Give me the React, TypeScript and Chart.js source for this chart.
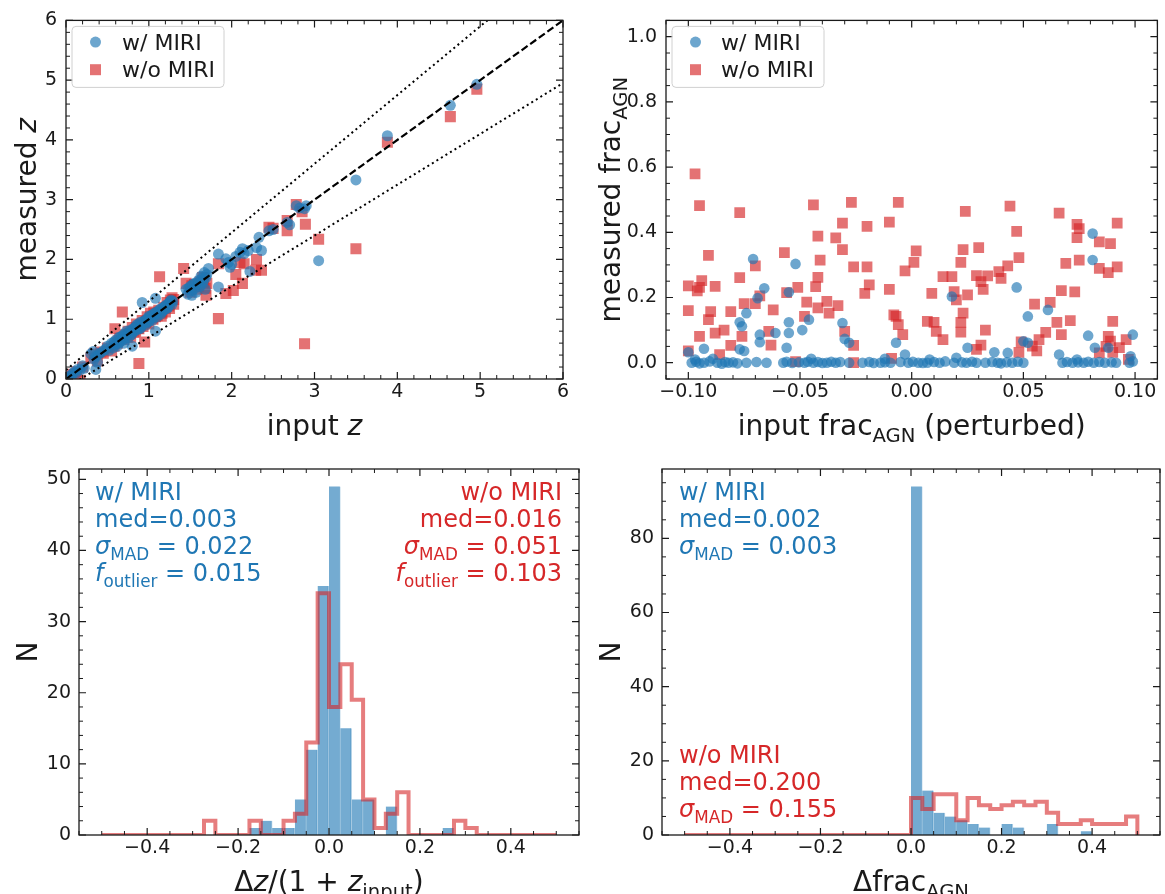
import React, { useEffect, useRef } from 'react';
import { Chart, registerables } from 'chart.js';

Chart.register(...registerables);

const W = 1165;
const H = 894;
const FONT = '"DejaVu Sans", "Liberation Sans", sans-serif';
const INK = '#1a1a1a';
const BLUE = 'rgba(31,119,180,0.65)';
const RED = 'rgba(214,39,40,0.65)';
const BLUE_BAR = 'rgba(31,119,180,0.62)';
const RED_STEP = 'rgba(214,39,40,0.6)';
const BLUE_TXT = '#1f77b4';
const RED_TXT = '#d62728';
const TICK_SIZE = 19;
const TITLE_SIZE = 28;
const LEGEND_SIZE = 22;
const NOTE_SIZE = 24;

const LEGEND_LABELS = ['w/ MIRI', 'w/o MIRI'];

// ---------- Panel 1: input z vs measured z ----------
const P1_TICKS = [0, 1, 2, 3, 4, 5, 6];
const P1_BLUE: number[][] = [
  [0.02, 0.02], [0.04, 0.05], [0.06, 0.04], [0.08, 0.09], [0.10, 0.12], [0.12, 0.10], [0.14, 0.16], [0.17, 0.15], [0.20, 0.22], [0.22, 0.18],
  [0.30, 0.42], [0.33, 0.46], [0.34, 0.33], [0.36, 0.38], [0.36, 0.16], [0.38, 0.28], [0.40, 0.42], [0.42, 0.44], [0.45, 0.47],
  [0.48, 0.50], [0.50, 0.55], [0.52, 0.48], [0.55, 0.60], [0.57, 0.52], [0.58, 0.62], [0.60, 0.58], [0.60, 0.65], [0.62, 0.55], [0.63, 0.60],
  [0.64, 0.70], [0.65, 0.62], [0.66, 0.70], [0.67, 0.66], [0.68, 0.72], [0.69, 0.65], [0.70, 0.75], [0.70, 0.60], [0.72, 0.68], [0.73, 0.80],
  [0.74, 0.76], [0.75, 0.74], [0.76, 0.70], [0.77, 0.78], [0.78, 0.82], [0.79, 0.74], [0.80, 0.78], [0.80, 0.55], [0.81, 0.82], [0.82, 0.85],
  [0.83, 0.80], [0.84, 0.86], [0.85, 0.90], [0.86, 0.83], [0.87, 0.92], [0.88, 0.88], [0.89, 0.84], [0.90, 0.95], [0.90, 0.86], [0.91, 0.90],
  [0.92, 1.28], [0.93, 0.92], [0.94, 0.96], [0.95, 0.98], [0.96, 0.90], [0.97, 0.94], [0.98, 1.00], [0.99, 1.02], [1.00, 0.96], [1.00, 1.05],
  [1.01, 0.99], [1.02, 1.02], [1.03, 1.06], [1.04, 0.98], [1.05, 1.08], [1.06, 1.03], [1.07, 1.10], [1.08, 0.80], [1.08, 1.35], [1.09, 1.12],
  [1.10, 1.04], [1.11, 1.10], [1.12, 1.12], [1.13, 1.16], [1.14, 1.08], [1.15, 1.18], [1.16, 1.12], [1.17, 1.15], [1.18, 1.20], [1.19, 1.16],
  [1.20, 1.22], [1.21, 1.24], [1.22, 1.18], [1.23, 1.20], [1.24, 1.26], [1.25, 1.28], [1.26, 1.30], [1.27, 1.32], [1.28, 1.25], [1.29, 1.30],
  [1.45, 1.50], [1.47, 1.42], [1.48, 1.52], [1.50, 1.55], [1.52, 1.48], [1.52, 1.40], [1.53, 1.58], [1.55, 1.60], [1.56, 1.52], [1.57, 1.45],
  [1.58, 1.60], [1.60, 1.65], [1.61, 1.62], [1.62, 1.55], [1.63, 1.72], [1.64, 1.68], [1.65, 1.60], [1.66, 1.65], [1.67, 1.78], [1.68, 1.50],
  [1.69, 1.70], [1.70, 1.75], [1.72, 1.85],
  [1.84, 2.09], [1.84, 1.54], [1.93, 2.01], [1.96, 1.95], [1.98, 1.87], [2.00, 1.92], [2.05, 2.05], [2.10, 2.12], [2.13, 2.18], [2.15, 2.10],
  [2.20, 2.15], [2.22, 1.80], [2.30, 2.20], [2.33, 2.37], [2.36, 2.15], [2.45, 2.48], [2.50, 2.50], [2.67, 2.62], [2.70, 2.58], [2.78, 2.90],
  [2.82, 2.86], [2.88, 2.85], [2.90, 2.90], [3.05, 1.98], [3.50, 3.33], [3.88, 4.07], [4.64, 4.58], [4.96, 4.93],
];
const P1_RED: number[][] = [
  [0.03, 0.04], [0.06, 0.08], [0.10, 0.07], [0.13, 0.12], [0.17, -0.02], [0.20, 0.20], [0.30, 0.35], [0.34, 0.42], [0.38, 0.30], [0.42, 0.45],
  [0.45, 0.43], [0.50, 0.52], [0.55, 0.47], [0.58, 0.55], [0.59, 0.84], [0.62, 0.60], [0.63, 0.64], [0.65, 0.68], [0.68, 1.12], [0.70, 0.66],
  [0.72, 0.74], [0.74, 0.70], [0.75, 0.80], [0.77, 0.76], [0.78, 0.70], [0.80, 0.86], [0.82, 0.78], [0.84, 0.80], [0.85, 0.92], [0.87, 0.85],
  [0.88, 0.26], [0.88, 0.84], [0.90, 0.90], [0.92, 0.98], [0.93, 0.88], [0.95, 0.62], [0.96, 0.94], [0.97, 0.96], [0.98, 1.04], [1.00, 0.92],
  [1.02, 1.10], [1.04, 1.02], [1.05, 1.00], [1.06, 1.12], [1.08, 1.04], [1.10, 1.06], [1.12, 1.15], [1.13, 1.71], [1.15, 1.05], [1.16, 1.10],
  [1.18, 1.20], [1.20, 1.12], [1.22, 1.28], [1.24, 1.22], [1.25, 1.18], [1.26, 1.32], [1.28, 1.36], [1.30, 1.25], [1.30, 1.33],
  [1.42, 1.85], [1.45, 1.60], [1.50, 1.45], [1.52, 1.56], [1.55, 1.58], [1.58, 1.50], [1.60, 1.55], [1.62, 1.62], [1.65, 1.70], [1.66, 1.62],
  [1.68, 1.52], [1.69, 1.40], [1.70, 1.60],
  [1.84, 1.01], [1.84, 1.93], [1.93, 1.43], [2.02, 1.48], [2.05, 1.75], [2.10, 1.95], [2.13, 1.60], [2.15, 1.93], [2.29, 1.82], [2.30, 2.00],
  [2.36, 1.82], [2.45, 2.54], [2.50, 2.52], [2.67, 2.65], [2.67, 2.48], [2.78, 2.92], [2.85, 2.80], [2.88, 0.59], [2.89, 2.59], [3.05, 2.34],
  [3.50, 2.18], [3.88, 3.96], [4.64, 4.39], [4.96, 4.85],
];
const P1_ONE_TO_ONE = [{ x: 0, y: 0 }, { x: 6, y: 6 }];
const P1_UPPER = [{ x: 0, y: 0.15 }, { x: 6, y: 7.05 }];
const P1_LOWER = [{ x: 0, y: -0.15 }, { x: 6, y: 4.95 }];

// ---------- Panel 2: input fracAGN vs measured fracAGN ----------
const P2_XTICKS = [-0.1, -0.05, 0, 0.05, 0.1];
const P2_YTICKS = [0, 0.2, 0.4, 0.6, 0.8, 1.0];
const P2_BLUE: number[][] = [
  [-0.071, 0.318], [-0.052, 0.303], [-0.066, 0.228], [-0.069, 0.198], [-0.055, 0.216], [-0.074, 0.152], [-0.077, 0.124], [-0.076, 0.112],
  [-0.068, 0.086], [-0.068, 0.063], [-0.061, 0.091], [-0.055, 0.124], [-0.055, 0.091], [-0.049, 0.1], [-0.046, 0.132], [-0.031, 0.122],
  [-0.030, 0.073], [-0.028, 0.061], [0.047, 0.231], [0.052, 0.142], [0.061, 0.162], [0.018, 0.203], [0.079, 0.083], [0.081, 0.396],
  [0.081, 0.315], [0.099, 0.086], [0.025, 0.046], [0.037, 0.032], [0.050, 0.066], [0.052, 0.061], [0.082, 0.046], [0.088, 0.046],
  [-0.007, 0.061], [-0.003, 0.025], [-0.056, 0.046], [-0.093, 0.043], [-0.100, 0.032], [-0.077, 0.041], [-0.075, 0.036], [0.066, 0.025],
  [0.074, 0.01], [0.098, 0.02], [0.020, 0.015], [0.043, 0.03], [-0.097, 0.01], [-0.089, 0.012], [-0.045, 0.012], [0.008, 0.01], [-0.012, 0.012],
  [-0.0985, 0.0], [-0.0965, 0.003], [-0.095, -0.002], [-0.093, 0.0], [-0.0905, 0.004], [-0.087, 0.0], [-0.085, -0.003], [-0.0835, 0.002],
  [-0.082, 0.0], [-0.080, 0.001], [-0.078, -0.002], [-0.074, 0.0], [-0.0695, 0.002], [-0.065, 0.0], [-0.0575, 0.0], [-0.056, 0.003],
  [-0.0535, -0.001], [-0.0505, 0.001], [-0.048, 0.0], [-0.0465, 0.003], [-0.044, 0.0], [-0.042, 0.002], [-0.040, -0.001], [-0.038, 0.0],
  [-0.036, 0.003], [-0.034, 0.0], [-0.032, 0.002], [-0.028, 0.0], [-0.022, 0.0], [-0.019, 0.002], [-0.017, -0.001], [-0.014, 0.0],
  [-0.012, 0.001], [-0.0095, 0.0], [-0.005, 0.002], [-0.0015, 0.0], [0.0005, 0.003], [0.003, 0.0], [0.005, -0.001], [0.007, 0.0],
  [0.010, 0.002], [0.0125, 0.0], [0.015, 0.004], [0.019, 0.0], [0.0225, 0.001], [0.0245, 0.0], [0.027, 0.003], [0.029, 0.0], [0.033, 0.0],
  [0.036, 0.002], [0.0385, 0.0], [0.040, -0.002], [0.0425, 0.001], [0.045, 0.0], [0.0475, 0.003], [0.050, 0.0], [0.0675, 0.0], [0.0695, 0.002],
  [0.072, 0.0], [0.0745, 0.001], [0.077, 0.0], [0.079, 0.003], [0.0815, 0.0], [0.084, 0.002], [0.0865, 0.0], [0.0895, 0.001], [0.0915, 0.0],
  [0.0975, 0.0], [0.099, 0.004],
];
const P2_RED: number[][] = [
  [-0.097, 0.579], [-0.095, 0.482], [-0.077, 0.46], [-0.100, 0.16], [-0.100, 0.236], [-0.095, 0.231], [-0.094, 0.252], [-0.096, 0.22],
  [-0.091, 0.329], [-0.088, 0.234], [-0.091, 0.132], [-0.090, 0.157], [-0.095, 0.081], [-0.100, 0.036], [-0.088, 0.091], [-0.084, 0.1],
  [-0.086, 0.025], [-0.081, 0.053], [-0.081, 0.157], [-0.077, 0.261], [-0.075, 0.181], [-0.076, 0.081], [-0.070, 0.297], [-0.070, 0.181],
  [-0.068, 0.205], [-0.064, 0.096], [-0.062, 0.162], [-0.063, 0.054], [-0.057, 0.338], [-0.056, 0.215], [-0.051, 0.231], [-0.052, 0.003],
  [-0.047, 0.186], [-0.048, 0.142], [-0.044, 0.484], [-0.042, 0.388], [-0.041, 0.315], [-0.042, 0.262], [-0.043, 0.233], [-0.042, 0.168],
  [-0.038, 0.188], [-0.037, 0.152], [-0.034, 0.383], [-0.033, 0.175], [-0.031, 0.428], [-0.031, 0.347], [-0.030, 0.096], [-0.027, 0.492],
  [-0.026, 0.294], [-0.026, 0.053], [-0.026, 0.0], [-0.020, 0.418], [-0.020, 0.294], [-0.019, 0.239], [-0.021, 0.213], [-0.010, 0.431],
  [-0.010, 0.225], [-0.009, 0.013], [-0.008, 0.147], [-0.006, 0.492], [-0.006, 0.117], [-0.004, 0.086], [-0.007, 0.142], [-0.003, 0.282],
  [0.001, 0.308], [0.002, 0.343], [0.007, 0.127], [0.010, 0.124], [0.011, 0.096], [0.009, 0.213], [0.014, 0.071], [0.014, 0.264],
  [0.018, 0.264], [0.019, 0.218], [0.020, 0.193], [0.022, 0.094], [0.022, 0.124], [0.023, 0.152], [0.023, 0.347], [0.024, 0.464],
  [0.022, 0.308], [0.025, 0.208], [0.029, 0.267], [0.030, 0.353], [0.031, 0.249], [0.032, 0.225], [0.031, 0.054], [0.029, 0.041],
  [0.033, 0.1], [0.034, 0.266], [0.039, 0.279], [0.040, 0.259], [0.043, 0.297], [0.044, 0.48], [0.047, 0.403], [0.048, 0.322],
  [0.048, 0.032], [0.049, 0.064], [0.055, 0.18], [0.054, 0.051], [0.056, 0.036], [0.057, 0.071], [0.060, 0.093], [0.062, 0.185],
  [0.066, 0.459], [0.067, 0.221], [0.065, 0.124], [0.067, 0.086], [0.069, 0.305], [0.071, 0.129], [0.073, 0.217], [0.074, 0.424],
  [0.074, 0.384], [0.075, 0.411], [0.075, 0.315], [0.084, 0.371], [0.084, 0.289], [0.088, 0.276], [0.089, 0.365], [0.088, 0.081],
  [0.089, 0.066], [0.090, 0.127], [0.090, 0.032], [0.092, 0.428], [0.092, 0.294], [0.093, 0.046], [0.096, 0.071], [0.097, 0.01],
  [0.084, 0.03], [0.087, 0.05],
];

// ---------- Histograms (bins of 0.025 from -0.5 to 0.5) ----------
const HIST_MIN = -0.5;
const HIST_BIN = 0.025;
const HIST_XTICKS = [-0.4, -0.2, 0, 0.2, 0.4];
const P3_YTICKS = [0, 10, 20, 30, 40, 50];
const P4_YTICKS = [0, 20, 40, 60, 80];
//                 -0.5 ................................ 0.0 .................................. 0.5
const P3_BLUE_COUNTS = [0, 0, 0, 0, 0, 0, 0, 0, 0, 0, 0, 0, 0, 1, 2, 1, 1, 5, 12, 35, 49, 15, 5, 5, 0, 4, 0, 0, 0, 0, 1, 0, 0, 0, 0, 0, 0, 0, 0, 0];
const P3_RED_COUNTS = [0, 0, 0, 0, 0, 0, 0, 0, 0, 2, 0, 0, 0, 2, 0, 0, 2, 3, 13, 34, 18, 24, 19, 5, 1, 3, 6, 0, 0, 0, 0, 2, 1, 0, 0, 0, 0, 0, 0, 0];
const P4_BLUE_COUNTS = [0, 0, 0, 0, 0, 0, 0, 0, 0, 0, 0, 0, 0, 0, 0, 0, 0, 0, 0, 0, 94, 12, 6, 5, 4, 3, 2, 0, 3, 2, 0, 0, 3, 0, 0, 1, 0, 0, 0, 0];
const P4_RED_COUNTS = [0, 0, 0, 0, 0, 0, 0, 0, 0, 0, 0, 0, 0, 0, 0, 0, 0, 0, 0, 0, 10, 7, 11, 11, 4, 10, 8, 7, 8, 9, 8, 9, 6, 3, 3, 4, 3, 3, 3, 5];

const P3_BLUE_STATS = { label: 'w/ MIRI', med: '0.003', sig: '0.022', fout: '0.015' };
const P3_RED_STATS = { label: 'w/o MIRI', med: '0.016', sig: '0.051', fout: '0.103' };
const P4_BLUE_STATS = { label: 'w/ MIRI', med: '0.002', sig: '0.003' };
const P4_RED_STATS = { label: 'w/o MIRI', med: '0.200', sig: '0.155' };

// ---------- helpers ----------
type Seg = { t: string; it?: boolean; sub?: boolean };

function segFont(s: Seg, size: number) {
  const sz = s.sub ? size * 0.7 : size;
  return `${s.it ? 'italic ' : ''}${sz}px ${FONT}`;
}

function drawRich(ctx: any, segs: Seg[], x: number, cy: number, size: number, color: string, align: string) {
  ctx.save();
  ctx.fillStyle = color;
  ctx.textBaseline = 'alphabetic';
  ctx.textAlign = 'left';
  let total = 0;
  const ws = segs.map((s) => {
    ctx.font = segFont(s, size);
    const w = ctx.measureText(s.t).width;
    total += w;
    return w;
  });
  let cx = align === 'left' ? x : align === 'right' ? x - total : x - total / 2;
  const base = cy + size * 0.35;
  segs.forEach((s, i) => {
    ctx.font = segFont(s, size);
    ctx.fillText(s.t, cx, base + (s.sub ? size * 0.24 : 0));
    cx += ws[i];
  });
  ctx.restore();
}

function fmt(v: number, dec: number) {
  const s = Number(v).toFixed(dec);
  return s.replace('-', '\u2212');
}

function minorVals(min: number, max: number, step: number, majors: number[]) {
  const out: number[] = [];
  const a = Math.ceil(min / step - 1e-9);
  const b = Math.floor(max / step + 1e-9);
  for (let k = a; k <= b; k++) {
    const v = k * step;
    if (!majors.some((m) => Math.abs(m - v) < step * 1e-3)) out.push(v);
  }
  return out;
}

function axis(min: number, max: number, ticks: number[], dec: number, isX: boolean, pad: number) {
  return {
    type: 'linear',
    min,
    max,
    offset: false,
    grid: { display: false, drawTicks: false },
    border: { display: false },
    ticks: {
      font: { family: FONT, size: TICK_SIZE },
      color: INK,
      padding: pad,
      maxRotation: 0,
      autoSkip: false,
      includeBounds: false,
      callback: (v: any) => fmt(v, dec),
    },
    afterBuildTicks: (s: any) => {
      s.ticks = ticks.map((v) => ({ value: v }));
    },
    afterFit: (s: any) => {
      if (isX) s.height = 40;
      else s.width = 60;
    },
  };
}

function padFor(L: number, T: number, R: number, B: number) {
  return { left: L - 60, top: T, right: W - R, bottom: H - B - 40 };
}

type DecorCfg = {
  xMajor: number[];
  xMinor: number;
  yMajor: number[];
  yMinor: number;
  xTitle: Seg[];
  yTitle: Seg[];
  xTitleDy: number;
  yTitleDx: number;
  extra?: (ctx: any, a: any) => void;
};

function decorPlugin(cfg: DecorCfg) {
  return {
    id: 'decor',
    afterDraw(chart: any) {
      const ctx = chart.ctx;
      const a = chart.chartArea;
      const xs = chart.scales.x;
      const ys = chart.scales.y;
      ctx.save();
      ctx.strokeStyle = INK;
      const drawX = (vals: number[], len: number, lw: number) => {
        ctx.lineWidth = lw;
        ctx.beginPath();
        vals.forEach((v) => {
          if (v < xs.min - 1e-9 || v > xs.max + 1e-9) return;
          const p = xs.getPixelForValue(v);
          ctx.moveTo(p, a.bottom);
          ctx.lineTo(p, a.bottom - len);
          ctx.moveTo(p, a.top);
          ctx.lineTo(p, a.top + len);
        });
        ctx.stroke();
      };
      const drawY = (vals: number[], len: number, lw: number) => {
        ctx.lineWidth = lw;
        ctx.beginPath();
        vals.forEach((v) => {
          if (v < ys.min - 1e-9 || v > ys.max + 1e-9) return;
          const p = ys.getPixelForValue(v);
          ctx.moveTo(a.left, p);
          ctx.lineTo(a.left + len, p);
          ctx.moveTo(a.right, p);
          ctx.lineTo(a.right - len, p);
        });
        ctx.stroke();
      };
      drawX(cfg.xMajor, 7, 1.2);
      drawX(minorVals(xs.min, xs.max, cfg.xMinor, cfg.xMajor), 4, 1);
      drawY(cfg.yMajor, 7, 1.2);
      drawY(minorVals(ys.min, ys.max, cfg.yMinor, cfg.yMajor), 4, 1);
      ctx.lineWidth = 1.3;
      ctx.strokeRect(a.left, a.top, a.right - a.left, a.bottom - a.top);
      ctx.restore();

      drawRich(ctx, cfg.xTitle, (a.left + a.right) / 2, a.bottom + cfg.xTitleDy, TITLE_SIZE, INK, 'center');
      ctx.save();
      ctx.translate(a.left - cfg.yTitleDx, (a.top + a.bottom) / 2);
      ctx.rotate(-Math.PI / 2);
      drawRich(ctx, cfg.yTitle, 0, 0, TITLE_SIZE, INK, 'center');
      ctx.restore();
      if (cfg.extra) cfg.extra(ctx, a);
    },
  };
}

function drawLegend(ctx: any, a: any, textDx: number) {
  const x0 = a.left + 6;
  const y0 = a.top + 6;
  const w = 152;
  const h = 61;
  const r = 4;
  ctx.save();
  ctx.beginPath();
  ctx.moveTo(x0 + r, y0);
  ctx.lineTo(x0 + w - r, y0);
  ctx.arcTo(x0 + w, y0, x0 + w, y0 + r, r);
  ctx.lineTo(x0 + w, y0 + h - r);
  ctx.arcTo(x0 + w, y0 + h, x0 + w - r, y0 + h, r);
  ctx.lineTo(x0 + r, y0 + h);
  ctx.arcTo(x0, y0 + h, x0, y0 + h - r, r);
  ctx.lineTo(x0, y0 + r);
  ctx.arcTo(x0, y0, x0 + r, y0, r);
  ctx.closePath();
  ctx.fillStyle = 'rgba(255,255,255,0.8)';
  ctx.fill();
  ctx.strokeStyle = '#d0d0d0';
  ctx.lineWidth = 1;
  ctx.stroke();
  const mx = a.left + 29.5;
  ctx.fillStyle = BLUE;
  ctx.beginPath();
  ctx.arc(mx, a.top + 21.7, 5.5, 0, Math.PI * 2);
  ctx.fill();
  ctx.fillStyle = RED;
  ctx.fillRect(mx - 5.5, a.top + 49.3 - 5.5, 11, 11);
  ctx.restore();
  drawRich(ctx, [{ t: LEGEND_LABELS[0] }], a.left + textDx, a.top + 21.7, LEGEND_SIZE, INK, 'left');
  drawRich(ctx, [{ t: LEGEND_LABELS[1] }], a.left + textDx, a.top + 49.3, LEGEND_SIZE, INK, 'left');
}

function toPts(arr: number[][]) {
  return arr.map((p) => ({ x: p[0], y: p[1] }));
}

function binCenters(n: number) {
  const out: number[] = [];
  for (let i = 0; i < n; i++) out.push(HIST_MIN + HIST_BIN * (i + 0.5));
  return out;
}

function stepPts(counts: number[]) {
  const pts: { x: number; y: number }[] = [{ x: HIST_MIN, y: 0 }];
  counts.forEach((c, i) => {
    const l = HIST_MIN + HIST_BIN * i;
    pts.push({ x: l, y: c });
    pts.push({ x: l + HIST_BIN, y: c });
  });
  pts.push({ x: HIST_MIN + HIST_BIN * counts.length, y: 0 });
  return pts;
}

const baseOptions = (padding: any, scales: any) => ({
  animation: false,
  responsive: false,
  maintainAspectRatio: false,
  devicePixelRatio: 1,
  events: [],
  layout: { padding },
  plugins: { legend: { display: false }, tooltip: { enabled: false } },
  scales,
});

function makeP1() {
  return {
    type: 'scatter',
    data: {
      datasets: [
        { type: 'line', data: P1_ONE_TO_ONE, borderColor: '#000', borderWidth: 2.2, borderDash: [7.4, 3.2], pointRadius: 0, fill: false },
        { type: 'line', data: P1_UPPER, borderColor: '#000', borderWidth: 2, borderDash: [2, 3.3], pointRadius: 0, fill: false },
        { type: 'line', data: P1_LOWER, borderColor: '#000', borderWidth: 2, borderDash: [2, 3.3], pointRadius: 0, fill: false },
        { data: toPts(P1_BLUE), pointStyle: 'circle', pointRadius: 5.5, backgroundColor: BLUE, borderWidth: 0, clip: 0 },
        { data: toPts(P1_RED), pointStyle: 'rect', pointRadius: 7.8, backgroundColor: RED, borderWidth: 0, clip: 0 },
      ],
    },
    options: baseOptions(padFor(66, 19, 563, 379), {
      x: axis(0, 6, P1_TICKS, 0, true, 2),
      y: axis(0, 6, P1_TICKS, 0, false, 9),
    }),
    plugins: [
      decorPlugin({
        xMajor: P1_TICKS, xMinor: 0.2, yMajor: P1_TICKS, yMinor: 0.2,
        xTitle: [{ t: 'input ' }, { t: 'z', it: true }],
        yTitle: [{ t: 'measured ' }, { t: 'z', it: true }],
        xTitleDy: 46, yTitleDx: 40,
        extra: (ctx, a) => drawLegend(ctx, a, 56),
      }),
    ],
  };
}

function makeP2() {
  return {
    type: 'scatter',
    data: {
      datasets: [
        { data: toPts(P2_BLUE), pointStyle: 'circle', pointRadius: 5.3, backgroundColor: BLUE, borderWidth: 0, clip: 0 },
        { data: toPts(P2_RED), pointStyle: 'rect', pointRadius: 7.6, backgroundColor: RED, borderWidth: 0, clip: 0 },
      ],
    },
    options: baseOptions(padFor(666, 19, 1161, 379), {
      x: axis(-0.11, 0.11, P2_XTICKS, 2, true, 2),
      y: axis(-0.05, 1.05, P2_YTICKS, 1, false, 9),
    }),
    plugins: [
      decorPlugin({
        xMajor: P2_XTICKS, xMinor: 0.01, yMajor: P2_YTICKS, yMinor: 0.05,
        xTitle: [{ t: 'input frac' }, { t: 'AGN', sub: true }, { t: ' (perturbed)' }],
        yTitle: [{ t: 'measured frac' }, { t: 'AGN', sub: true }],
        xTitleDy: 46, yTitleDx: 56,
        extra: (ctx, a) => drawLegend(ctx, a, 55),
      }),
    ],
  };
}

function histChart(blue: number[], red: number[], ymax: number, yticks: number[], yminor: number, box: number[], decor: any) {
  const centers = binCenters(blue.length);
  return {
    type: 'bar',
    data: {
      datasets: [
        { type: 'line', data: stepPts(red), borderColor: RED_STEP, borderWidth: 4, pointRadius: 0, fill: false, tension: 0, clip: 0, borderJoinStyle: 'miter' },
        {
          type: 'bar',
          data: centers.map((x, i) => ({ x, y: blue[i] })),
          backgroundColor: BLUE_BAR,
          borderColor: 'rgba(31,119,180,0.3)',
          borderWidth: { top: 0, right: 1, bottom: 0, left: 0 },
          borderSkipped: false,
          barPercentage: 1,
          categoryPercentage: 1,
        },
      ],
    },
    options: baseOptions(padFor(box[0], box[1], box[2], box[3]), {
      x: axis(-0.55, 0.55, HIST_XTICKS, 1, true, 2),
      y: axis(0, ymax, yticks, 0, false, 8),
    }),
    plugins: [decorPlugin({ xMajor: HIST_XTICKS, xMinor: 0.05, yMajor: yticks, yMinor: yminor, ...decor })],
  };
}

function makeP3() {
  return histChart(P3_BLUE_COUNTS, P3_RED_COUNTS, 51.45, P3_YTICKS, 2, [79, 469, 579, 835], {
    xTitle: [{ t: '\u0394' }, { t: 'z', it: true }, { t: '/(1 + ' }, { t: 'z', it: true }, { t: 'input', sub: true }, { t: ')' }],
    yTitle: [{ t: 'N' }],
    xTitleDy: 46, yTitleDx: 52,
    extra: (ctx: any, a: any) => {
      const bl = a.left + 16;
      const br = a.right - 17;
      const rows = [23, 50, 77, 104];
      const b = P3_BLUE_STATS;
      const r = P3_RED_STATS;
      drawRich(ctx, [{ t: b.label }], bl, a.top + rows[0], NOTE_SIZE, BLUE_TXT, 'left');
      drawRich(ctx, [{ t: 'med=' + b.med }], bl, a.top + rows[1], NOTE_SIZE, BLUE_TXT, 'left');
      drawRich(ctx, [{ t: '\u03c3', it: true }, { t: 'MAD', sub: true }, { t: ' = ' + b.sig }], bl, a.top + rows[2], NOTE_SIZE, BLUE_TXT, 'left');
      drawRich(ctx, [{ t: 'f', it: true }, { t: 'outlier', sub: true }, { t: ' = ' + b.fout }], bl, a.top + rows[3], NOTE_SIZE, BLUE_TXT, 'left');
      drawRich(ctx, [{ t: r.label }], br, a.top + rows[0], NOTE_SIZE, RED_TXT, 'right');
      drawRich(ctx, [{ t: 'med=' + r.med }], br, a.top + rows[1], NOTE_SIZE, RED_TXT, 'right');
      drawRich(ctx, [{ t: '\u03c3', it: true }, { t: 'MAD', sub: true }, { t: ' = ' + r.sig }], br, a.top + rows[2], NOTE_SIZE, RED_TXT, 'right');
      drawRich(ctx, [{ t: 'f', it: true }, { t: 'outlier', sub: true }, { t: ' = ' + r.fout }], br, a.top + rows[3], NOTE_SIZE, RED_TXT, 'right');
    },
  });
}

function makeP4() {
  return histChart(P4_BLUE_COUNTS, P4_RED_COUNTS, 98.7, P4_YTICKS, 5, [662, 469, 1160, 835], {
    xTitle: [{ t: '\u0394frac' }, { t: 'AGN', sub: true }],
    yTitle: [{ t: 'N' }],
    xTitleDy: 46, yTitleDx: 52,
    extra: (ctx: any, a: any) => {
      const x = a.left + 17;
      const b = P4_BLUE_STATS;
      const r = P4_RED_STATS;
      drawRich(ctx, [{ t: b.label }], x, a.top + 23, NOTE_SIZE, BLUE_TXT, 'left');
      drawRich(ctx, [{ t: 'med=' + b.med }], x, a.top + 50, NOTE_SIZE, BLUE_TXT, 'left');
      drawRich(ctx, [{ t: '\u03c3', it: true }, { t: 'MAD', sub: true }, { t: ' = ' + b.sig }], x, a.top + 77, NOTE_SIZE, BLUE_TXT, 'left');
      drawRich(ctx, [{ t: r.label }], x, a.top + 286, NOTE_SIZE, RED_TXT, 'left');
      drawRich(ctx, [{ t: 'med=' + r.med }], x, a.top + 313, NOTE_SIZE, RED_TXT, 'left');
      drawRich(ctx, [{ t: '\u03c3', it: true }, { t: 'MAD', sub: true }, { t: ' = ' + r.sig }], x, a.top + 340, NOTE_SIZE, RED_TXT, 'left');
    },
  });
}

function Panel({ make }: { make: () => any }) {
  const ref = useRef<HTMLCanvasElement>(null);
  useEffect(() => {
    const chart = new Chart(ref.current as HTMLCanvasElement, make() as any);
    return () => chart.destroy();
  }, []);
  return <canvas ref={ref} width={W} height={H} style={{ position: 'absolute', left: 0, top: 0, width: W, height: H }} />;
}

export default function App() {
  return (
    <div style={{ position: 'absolute', left: 0, top: 0, width: W, height: H, background: '#fff', overflow: 'hidden' }}>
      <Panel make={makeP1} />
      <Panel make={makeP2} />
      <Panel make={makeP3} />
      <Panel make={makeP4} />
    </div>
  );
}
